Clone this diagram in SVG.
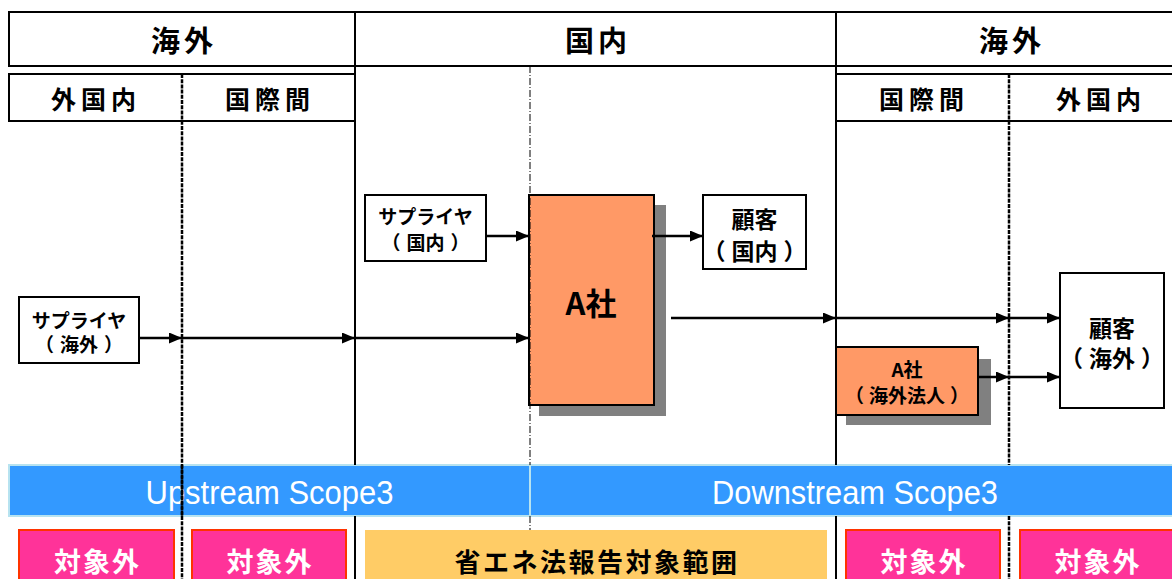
<svg xmlns="http://www.w3.org/2000/svg" width="1172" height="579" viewBox="0 0 1172 579">
<defs>
<style>
.hdr{fill:#fff;stroke:#000;stroke-width:2}
.t{font-family:"Noto Sans CJK JP","Liberation Sans",sans-serif;font-weight:700;fill:#000;text-anchor:middle}
.box{fill:#fff;stroke:#000;stroke-width:2}
.org{fill:#FF9966;stroke:#000;stroke-width:2}
.shadow{fill:#808080}
.ln{stroke:#000;stroke-width:2.5;fill:none;marker-end:url(#ah)}
.vsolid{stroke:#000;stroke-width:2}
.vdash{stroke:#000;stroke-width:2.5;stroke-dasharray:4 1.2}
.vdd{stroke:#000;stroke-width:1;stroke-dasharray:7 2 1 2}
.bar{fill:#3399FF;stroke:#B7E3F0;stroke-width:2}
.bt{font-family:"Liberation Sans",sans-serif;fill:#fff;text-anchor:middle;font-size:33px}
.pink{fill:#FF3399;stroke:#FF3300;stroke-width:2}
.yel{fill:#FFCC66}
.wt{font-family:"Noto Sans CJK JP","Liberation Sans",sans-serif;font-weight:700;fill:#fff;text-anchor:middle}
</style>
<marker id="ah" markerUnits="userSpaceOnUse" markerWidth="13" markerHeight="11" refX="13" refY="5.5" orient="auto">
<path d="M0,0 L13,5.5 L0,11 z" fill="#000"/>
</marker>
</defs>

<g id="header">
<rect class="hdr" x="9" y="12" width="346" height="54"/>
<rect class="hdr" x="355" y="12" width="481" height="54"/>
<rect class="hdr" x="836" y="12" width="350" height="54"/>
<rect class="hdr" x="9" y="74" width="346" height="47"/>
<rect class="hdr" x="836" y="74" width="350" height="47"/>
<text class="t" x="184" y="52" font-size="29" letter-spacing="4">海外</text>
<text class="t" x="598" y="52" font-size="29" letter-spacing="4">国内</text>
<text class="t" x="1012" y="52" font-size="29" letter-spacing="4">海外</text>
<text class="t" x="96" y="108.5" font-size="25" letter-spacing="5">外国内</text>
<text class="t" x="270" y="108.5" font-size="25" letter-spacing="5">国際間</text>
<text class="t" x="924" y="108.5" font-size="25" letter-spacing="5">国際間</text>
<text class="t" x="1101" y="108.5" font-size="25" letter-spacing="5">外国内</text>
</g>

<g id="bars">
<rect class="bar" x="9" y="465" width="521" height="51"/>
<rect class="bar" x="530" y="465" width="660" height="51"/>
<text class="bt" x="269.5" y="504" textLength="248" lengthAdjust="spacingAndGlyphs">Upstream Scope3</text>
<text class="bt" x="855" y="504" textLength="286" lengthAdjust="spacingAndGlyphs">Downstream Scope3</text>
</g>

<g id="lanes">
<line class="vsolid" x1="355" y1="66" x2="355" y2="465"/>
<line class="vsolid" x1="355" y1="516" x2="355" y2="579"/>
<line class="vsolid" x1="836" y1="66" x2="836" y2="465"/>
<line class="vsolid" x1="836" y1="516" x2="836" y2="579"/>
<line class="vdash" x1="182" y1="74" x2="182" y2="579"/>
<line class="vdash" x1="1009" y1="74" x2="1009" y2="465"/>
<line class="vdash" x1="1009" y1="516" x2="1009" y2="579"/>
</g>

<g id="scope-boxes">
<rect class="pink" x="19" y="530" width="155" height="60"/>
<rect class="pink" x="192" y="530" width="154" height="60"/>
<rect class="yel" x="365" y="530" width="462" height="60"/>
<rect class="pink" x="846" y="530" width="154" height="60"/>
<rect class="pink" x="1020" y="530" width="160" height="60"/>
<text class="wt" x="97.5" y="572" font-size="27" letter-spacing="2">対象外</text>
<text class="wt" x="270" y="572" font-size="27" letter-spacing="2">対象外</text>
<text class="t" x="597" y="572" font-size="26" letter-spacing="2.5">省エネ法報告対象範囲</text>
<text class="wt" x="924" y="572" font-size="27" letter-spacing="2">対象外</text>
<text class="wt" x="1098" y="572" font-size="27" letter-spacing="2">対象外</text>
</g>

<g id="supplier-overseas">
<rect class="box" x="19" y="297" width="120" height="66"/>
<text class="t" font-size="19"><tspan x="79" y="328">サプライヤ</tspan><tspan x="79" y="352">（<tspan dx="6">海外</tspan><tspan dx="6">）</tspan></tspan></text>
</g>

<g id="supplier-domestic">
<rect class="box" x="365" y="195" width="121" height="66"/>
<text class="t" font-size="19"><tspan x="425.5" y="224">サプライヤ</tspan><tspan x="425.5" y="250">（<tspan dx="6">国内</tspan><tspan dx="6">）</tspan></tspan></text>
</g>

<g id="company-a">
<rect class="shadow" x="539" y="205" width="127" height="211"/>
<rect class="org" x="529" y="195" width="125" height="210"/>
<text class="t" x="591" y="315" font-size="31">A社</text>
</g>

<g id="customer-domestic">
<rect class="box" x="703" y="195" width="103" height="74"/>
<text class="t" font-size="23"><tspan x="754.5" y="228">顧客</tspan><tspan x="754.5" y="260">（<tspan dx="6">国内</tspan><tspan dx="6">）</tspan></tspan></text>
</g>

<g id="company-a-overseas">
<rect class="shadow" x="846" y="359" width="145" height="66"/>
<rect class="org" x="836" y="347" width="142" height="68"/>
<text class="t" font-size="19"><tspan x="907" y="377">A社</tspan><tspan x="907" y="403">（<tspan dx="5">海外法人</tspan><tspan dx="5">）</tspan></tspan></text>
</g>

<g id="customer-overseas">
<rect class="box" x="1060" y="273" width="104" height="135"/>
<text class="t" font-size="23"><tspan x="1112" y="337">顧客</tspan><tspan x="1112" y="367">（<tspan dx="6">海外</tspan><tspan dx="6">）</tspan></tspan></text>
</g>

<g id="connectors">
<line class="ln" x1="139" y1="338" x2="182" y2="338"/>
<line class="ln" x1="182" y1="338" x2="355" y2="338"/>
<line class="ln" x1="355" y1="338" x2="529" y2="338"/>
<line class="ln" x1="486" y1="236" x2="529" y2="236"/>
<line class="ln" x1="652" y1="236" x2="703" y2="236"/>
<line class="ln" x1="671" y1="318" x2="836" y2="318"/>
<line class="ln" x1="836" y1="318" x2="1009" y2="318"/>
<line class="ln" x1="1009" y1="318" x2="1060" y2="318"/>
<line class="ln" x1="978" y1="377" x2="1009" y2="377"/>
<line class="ln" x1="1009" y1="377" x2="1060" y2="377"/>
<line class="vdd" x1="530" y1="66" x2="530" y2="465"/>
<line class="vdd" x1="530" y1="516" x2="530" y2="530"/>
<line class="vdash" x1="182" y1="465" x2="182" y2="516"/>
</g>
</svg>
